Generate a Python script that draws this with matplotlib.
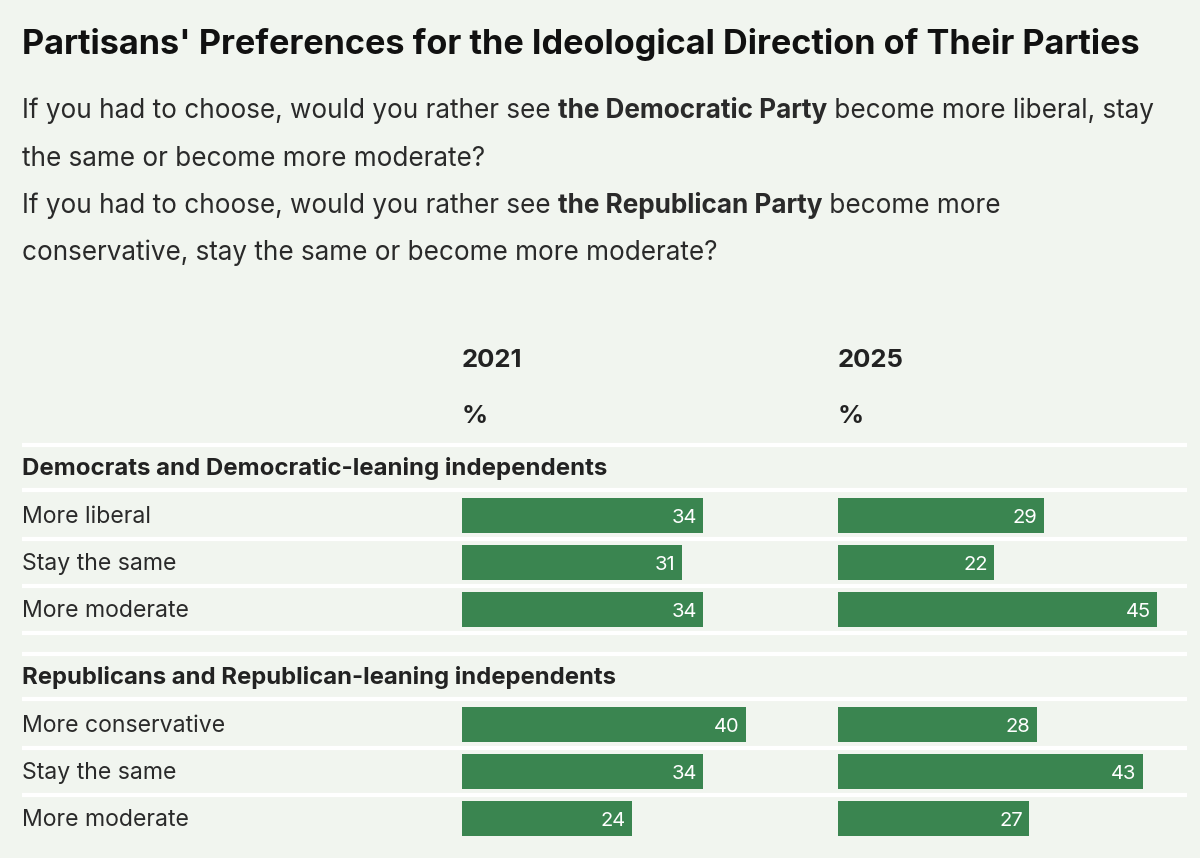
import matplotlib
matplotlib.use("Agg")
import matplotlib.pyplot as plt

# data
years = ["2021", "2025"]
groups = ["Democrats and Democratic-leaning independents",
          "Republicans and Republican-leaning independents"]
dem_labels = ["More liberal", "Stay the same", "More moderate"]
rep_labels = ["More conservative", "Stay the same", "More moderate"]
dem_2021 = [34, 31, 34]
dem_2025 = [29, 22, 45]
rep_2021 = [40, 34, 24]
rep_2025 = [28, 43, 27]

title = "Partisans' Preferences for the Ideological Direction of Their Parties"
subtitle = [
    [("If you had to choose, would you rather see ", "normal"), ("the Democratic Party", "bold"),
     (" become more liberal, stay", "normal")],
    [("the same or become more moderate?", "normal")],
    [("If you had to choose, would you rather see ", "normal"), ("the Republican Party", "bold"),
     (" become more", "normal")],
    [("conservative, stay the same or become more moderate?", "normal")],
]

BG = "#f1f5ef"
GREEN = "#3a8550"
DARK = "#222222"
FONT = "Inter"

W, H = 1200, 858
fig = plt.figure(figsize=(12, 8.58), dpi=100, facecolor=BG)
base = fig.add_axes([0, 0, 1, 1])
base.set_xlim(0, W)
base.set_ylim(H, 0)
base.axis("off")
base.set_facecolor(BG)
renderer = fig.canvas.get_renderer()


def fit_text(x, y, s, width_px, **kw):
    # shrink/grow a text so it spans width_px, like the reference
    tt = base.text(x, y, s, fontsize=20, family=FONT, va="baseline", **kw)
    w = tt.get_window_extent(renderer).width
    tt.set_fontsize(20 * width_px / w)
    return tt


fit_text(22, 54, title, 1121, fontweight="bold", color="#111111")


def draw_runs(y, runs, size):
    x = 22
    for txt, wt in runs:
        tt = base.text(x, y, txt, fontsize=size, fontweight=wt, color="#2a2a2a",
                       family=FONT, va="baseline")
        bb = tt.get_window_extent(renderer)
        x += bb.width * W / fig.bbox.width


for i, runs in enumerate(subtitle):
    draw_runs(118 + i * 47.5, runs, 18.8)

# column headers
left_px = [462, 838]
for yr, lx in zip(years, left_px):
    base.text(lx, 367, yr, fontsize=18.5, fontweight="bold", color=DARK, family=FONT, va="baseline")
    base.text(lx, 423, "%", fontsize=18.5, fontweight="bold", color=DARK, family=FONT, va="baseline")

# rows layout
group_top = [468, 677]
group_w = [585, 594]
step = 47
row_y = []
for g, (gname, labels) in enumerate(zip(groups, [dem_labels, rep_labels])):
    gy = group_top[g]
    base.plot([22, 1187], [gy - 23, gy - 23], color="white", lw=3, solid_capstyle="butt")
    base.plot([22, 1187], [gy + 22, gy + 22], color="white", lw=3, solid_capstyle="butt")
    fit_text(22, gy + 7, gname, group_w[g], fontweight="bold", color=DARK)
    for i, lab in enumerate(labels):
        cy = gy + step * (i + 1)
        row_y.append(cy)
        base.text(22, cy + 8, lab, fontsize=16.6, color="#2a2a2a", family=FONT, va="baseline")
        if g == 0 or i < len(labels) - 1:
            base.plot([22, 1187], [cy + 23.5, cy + 23.5], color="white", lw=3, solid_capstyle="butt")

# bars
scale = 7.09
values = [dem_2021 + rep_2021, dem_2025 + rep_2025]
for lx, vals in zip(left_px, values):
    ax = fig.add_axes([lx / W, 0, 50 * scale / W, 1])
    ax.set_xlim(0, 50)
    ax.set_ylim(H, 0)
    ax.axis("off")
    ax.patch.set_alpha(0)
    ax.barh(row_y, vals, height=35, color=GREEN)
    for y, v in zip(row_y, vals):
        ax.annotate(str(v), (v, y + 8), xytext=(-4.5, 0), textcoords="offset points",
                    ha="right", va="baseline", color="white", fontsize=14.5, family=FONT)

fig.savefig("out.png", dpi=100, facecolor=BG)
